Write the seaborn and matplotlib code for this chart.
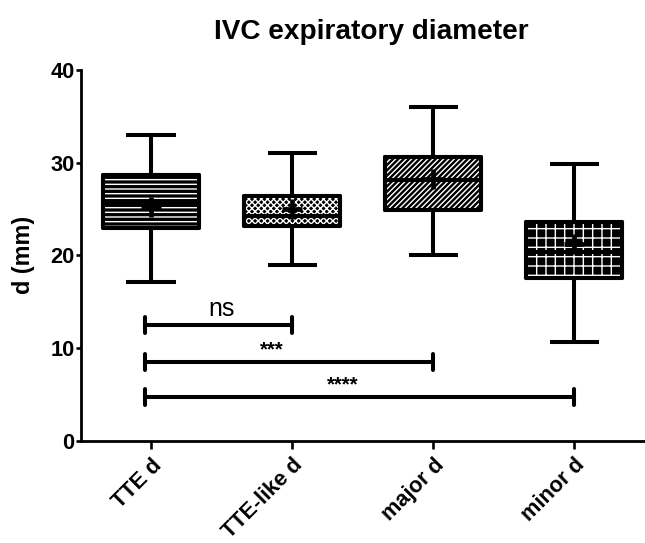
import numpy as np
import pandas as pd
import seaborn as sns
import matplotlib
matplotlib.use('Agg')
import matplotlib.pyplot as plt
from matplotlib.patches import PathPatch

# five-number summaries (min, q1, median, q3, max)
groups = ['TTE d', 'TTE-like d', 'major d', 'minor d']
tte = [17.1, 22.9, 25.6, 28.7, 33.0]
tte_like = [19.0, 23.2, 24.2, 26.4, 31.0]
major = [20.0, 24.9, 28.1, 30.6, 36.0]
minor = [10.7, 17.6, 20.4, 23.6, 29.9]
means = [25.2, 25.0, 28.2, 21.2]
hatches = ['----', 'xxxxxx', '///////', '++']

# significance brackets
pairs = [(0, 1), (0, 2), (0, 3)]
bracket_y = [12.5, 8.5, 4.7]
bracket_txt = ['ns', '***', '****']

sns.set_style('ticks')
plt.rcParams['font.family'] = ['Liberation Sans', 'DejaVu Sans']
plt.rcParams['hatch.linewidth'] = 0.9
plt.rcParams['text.color'] = 'black'
plt.rcParams['axes.labelcolor'] = 'black'
plt.rcParams['xtick.color'] = 'black'
plt.rcParams['ytick.color'] = 'black'

df = pd.DataFrame({
    'group': np.repeat(groups, 5),
    'd': tte + tte_like + major + minor,
})

dpi = 112
fig = plt.figure(figsize=(645 / dpi, 543 / dpi), dpi=dpi)
ax = fig.add_axes([0.125, 0.1884, 0.875, 0.6827])

lw = 2.6
sns.boxplot(data=df, x='group', y='d', order=groups, ax=ax, color='black',
            linecolor='black', linewidth=lw, width=0.68, whis=(0, 100),
            fliersize=0, capwidths=0.35)

boxes = list(ax.patches)
for line in ax.lines:
    line.set_zorder(2.5)
    line.set_solid_capstyle('butt')
for patch, h in zip(boxes, hatches):
    patch.set_joinstyle('round')
    hp = PathPatch(patch.get_path(), facecolor='none', edgecolor='white', lw=0,
                   hatch=h, zorder=2.2, transform=ax.transData)
    ax.add_patch(hp)
    op = PathPatch(patch.get_path(), facecolor='none', edgecolor='black', lw=lw,
                   joinstyle='round', zorder=2.7, transform=ax.transData)
    ax.add_patch(op)

sns.pointplot(x=groups, y=means, order=groups, ax=ax, color='black', markers='+',
              linestyles='none', errorbar=None, markersize=13, markeredgewidth=3.0)
for line in ax.lines[-1:]:
    line.set_zorder(4)

for (a, b), y, t in zip(pairs, bracket_y, bracket_txt):
    x0 = a - 0.045
    ax.plot([x0, b], [y, y], color='black', lw=lw, solid_capstyle='butt', zorder=3)
    for xx in (x0, b):
        ax.plot([xx, xx], [y - 0.9, y + 0.9], color='black', lw=lw,
                solid_capstyle='round', zorder=3)
    if t == 'ns':
        ax.text((x0 + b) / 2 + 0.02, y + 0.45, t, ha='center', va='bottom', fontsize=16)
    else:
        ax.text((x0 + b) / 2 - 0.12, y + 0.25, t, ha='center', va='bottom',
                fontsize=13, fontweight='bold')

ax.set_xlim(-0.5, 3.5)
ax.set_ylim(0, 40)
ax.set_yticks([0, 10, 20, 30, 40])
ax.set_xlabel('')
ax.set_ylabel('d (mm)', fontsize=15, fontweight='bold', labelpad=10)
ax.set_xticks(range(len(groups)))
ax.set_xticklabels(groups, rotation=45, ha='right', rotation_mode='anchor',
                   fontsize=14, fontweight='bold')
for lab in ax.get_yticklabels():
    lab.set_fontsize(14)
    lab.set_fontweight('bold')
ax.tick_params(axis='y', length=3, width=1.7, pad=1)
ax.tick_params(axis='x', length=5, width=1.7, pad=4)
sns.despine(ax=ax)
for s in ('left', 'bottom'):
    ax.spines[s].set_linewidth(1.8)
    ax.spines[s].set_color('black')

fig.text(0.575, 1 - 32 / 543, 'IVC expiratory diameter', ha='center', va='center',
         fontsize=18, fontweight='bold')

fig.savefig('out.png', dpi=dpi)
